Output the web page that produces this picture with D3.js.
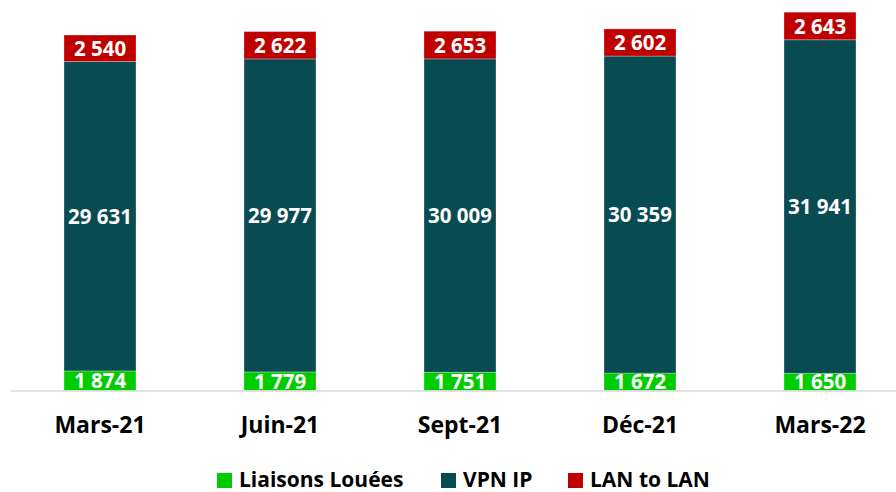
<!DOCTYPE html>
<html>
<head>
<meta charset="utf-8">
<script src="https://cdn.jsdelivr.net/npm/d3@7"></script>
<style>
  html, body { margin: 0; padding: 0; background: #fff; }
  svg { display: block; }
</style>
</head>
<body>
<svg id="chart" width="896" height="492"></svg>
<script>
// ── Données ──
const categories = ["Mars-21", "Juin-21", "Sept-21", "Déc-21", "Mars-22"];
const liaisonsLouees = [1874, 1779, 1751, 1672, 1650];
const vpnIp = [29631, 29977, 30009, 30359, 31941];
const lanToLan = [2540, 2622, 2653, 2602, 2643];

const seriesNames = ["Liaisons Louées", "VPN IP", "LAN to LAN"];
const seriesColors = ["#00cc00", "#084b53", "#c00000"];

const FONT = "'Open Sans', 'Noto Sans', sans-serif";

const rows = categories.map((c, i) => ({
  cat: c,
  "Liaisons Louées": liaisonsLouees[i],
  "VPN IP": vpnIp[i],
  "LAN to LAN": lanToLan[i],
}));

const svg = d3.select("#chart");

const x = d3.scaleBand().domain(categories).range([10, 910]).paddingInner(0.6).paddingOuter(0.3);
const y = d3.scaleLinear().domain([0, 37400]).range([390.5, 0]);

const stack = d3.stack().keys(seriesNames);
const layers = stack(rows);

const fmt = v => d3.format(",")(v).replace(/,/g, " ");

// Segments
const layerG = svg.append("g").selectAll("g")
  .data(layers).join("g")
  .attr("fill", (d, i) => seriesColors[i]);

layerG.selectAll("rect")
  .data(d => d).join("rect")
  .attr("x", d => x(d.data.cat))
  .attr("width", x.bandwidth())
  .attr("y", d => y(d[1]))
  .attr("height", d => y(d[0]) - y(d[1]))
  .attr("stroke", "rgba(255,255,255,0.35)")
  .attr("stroke-width", 0.8);

// Étiquettes de valeurs
layerG.selectAll("text")
  .data((d, i) => d.map(p => ({ p, key: seriesNames[i] })))
  .join("text")
  .attr("x", d => x(d.p.data.cat) + x.bandwidth() / 2)
  .attr("y", d => (y(d.p[0]) + y(d.p[1])) / 2)
  .attr("dy", "0.37em")
  .attr("text-anchor", "middle")
  .attr("fill", "#fff")
  .attr("font-family", FONT)
  .attr("font-weight", "bold")
  .attr("font-size", "20.5px")
  .text(d => fmt(d.p.data[d.key]));

// Axe X
svg.append("line")
  .attr("x1", 10).attr("x2", 896)
  .attr("y1", y(0) + 0.5).attr("y2", y(0) + 0.5)
  .attr("stroke", "#d9d9d9").attr("stroke-width", 1.5);

svg.append("g").selectAll("text")
  .data(categories).join("text")
  .attr("x", d => x(d) + x.bandwidth() / 2)
  .attr("y", 433)
  .attr("text-anchor", "middle")
  .attr("fill", "#000")
  .attr("font-family", FONT)
  .attr("font-weight", "bold")
  .attr("font-size", "23px")
  .text(d => d);

// Légende
const legendX = [217, 441, 568];
const legend = svg.append("g").selectAll("g")
  .data(seriesNames).join("g")
  .attr("transform", (d, i) => `translate(${legendX[i]},473)`);

legend.append("rect")
  .attr("width", 15).attr("height", 15)
  .attr("fill", (d, i) => seriesColors[i]);

legend.append("text")
  .attr("x", 22).attr("y", 14)
  .attr("fill", "#000")
  .attr("font-family", FONT)
  .attr("font-weight", "bold")
  .attr("font-size", "21px")
  .text(d => d);
</script>
</body>
</html>
